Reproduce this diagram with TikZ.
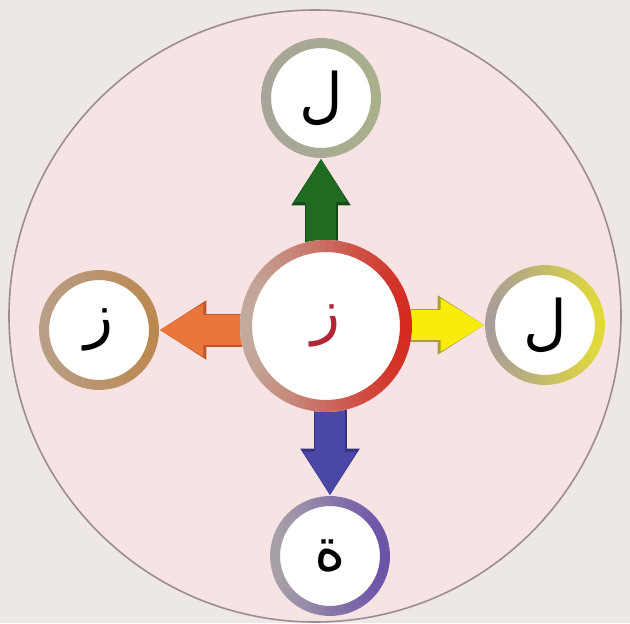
\documentclass[tikz,border=0pt]{standalone}
\usepackage{fontspec}
\newfontfamily\arabicfont[Script=Arabic]{DejaVu Sans}
\TeXXeTstate=1
\usetikzlibrary{arrows.meta}

\definecolor{paper}{HTML}{EDE7E5}
\definecolor{disk}{HTML}{F7E2E4}
\definecolor{diskline}{HTML}{9C8C94}
\definecolor{greenA}{HTML}{1F6B22}\definecolor{greenB}{HTML}{144A18}
\definecolor{orangeA}{HTML}{EA763C}\definecolor{orangeB}{HTML}{C0552A}
\definecolor{yellowA}{HTML}{F7EC0A}\definecolor{yellowB}{HTML}{A8A030}
\definecolor{blueA}{HTML}{4B47A6}\definecolor{blueB}{HTML}{35327E}
\definecolor{redletter}{HTML}{B02838}
\definecolor{tanA}{HTML}{C2AA9C}\definecolor{redring}{HTML}{D42A20}
\definecolor{grayA}{HTML}{A8A49A}\definecolor{oliveB}{HTML}{A8B08C}
\definecolor{tanB}{HTML}{B89E86}\definecolor{brownB}{HTML}{BC8850}
\definecolor{grayC}{HTML}{A89E98}\definecolor{yellowring}{HTML}{E2DA3A}
\definecolor{grayD}{HTML}{A8A0A8}\definecolor{purplering}{HTML}{6A52A8}

\pgfdeclarelayer{bg}
\pgfdeclarelayer{arrowlayer}
\pgfsetlayers{bg,arrowlayer,main}

\tikzset{
  letter/.style={circle, fill=white, inner sep=0pt, minimum size=60pt,
    font=\arabicfont\fontsize{30}{30}\selectfont},
  fatarrow/.style 2 args={line width=15pt, draw=#1,
    -{Triangle[width=25pt,length=22pt]},
    preaction={draw=#2, line width=16.5pt, -{Triangle[width=28pt,length=23.5pt]}}}
}

% coloured ring round a node: name, radius, width, colour on the left, colour on the right
\newcommand{\colorring}[5]{%
  \foreach \a in {0,5,...,355} {
    \pgfmathtruncatemacro\p{50*(1+cos(\a+2.5))}
    \draw[line width=#3, draw=#5!\p!#4]
      ([shift={(\a:#2)}]#1.center) arc[start angle=\a, end angle=\a+5.5, radius=#2];
  }}

\begin{document}
\begin{tikzpicture}[x=0.5pt, y=0.5pt]
    \useasboundingbox (0,0) rectangle (630,623);
    \begin{pgfonlayer}{bg}
        \fill[paper] (0,0) rectangle (630,623);
        \draw[line width=0.8pt, draw=diskline, fill=disk] (315,307) circle (153pt);
    \end{pgfonlayer}

    \node[letter, minimum size=86pt, text=redletter] (mid) at (326,297) {\beginR ز\endR};
    \node[letter] (up)  at (321,525) {\beginR ل\endR};
    \node[letter] (lft) at (99,293)  {\beginR ز\endR};
    \node[letter] (rgt) at (545,298) {\beginR ل\endR};
    \node[letter] (dwn) at (330,67)  {\beginR ة\endR};

    \colorring{mid}{40pt}{6pt}{tanA}{redring}
    \colorring{up}{27.5pt}{5pt}{grayA}{oliveB}
    \colorring{lft}{27.5pt}{5pt}{tanB}{brownB}
    \colorring{rgt}{27.5pt}{5pt}{grayC}{yellowring}
    \colorring{dwn}{27.5pt}{5pt}{grayD}{purplering}

    \begin{pgfonlayer}{arrowlayer}
        \draw[fatarrow={greenA}{greenB}] (up.south |- mid.center) -- (up.south);
        \draw[fatarrow={orangeA}{orangeB}] (lft.east -| mid.center) -- (lft.east);
        \draw[fatarrow={yellowA}{yellowB}] (rgt.west -| mid.center) -- (rgt.west);
        \draw[fatarrow={blueA}{blueB}] (dwn.north |- mid.center) -- (dwn.north);
    \end{pgfonlayer}
\end{tikzpicture}
\end{document}
